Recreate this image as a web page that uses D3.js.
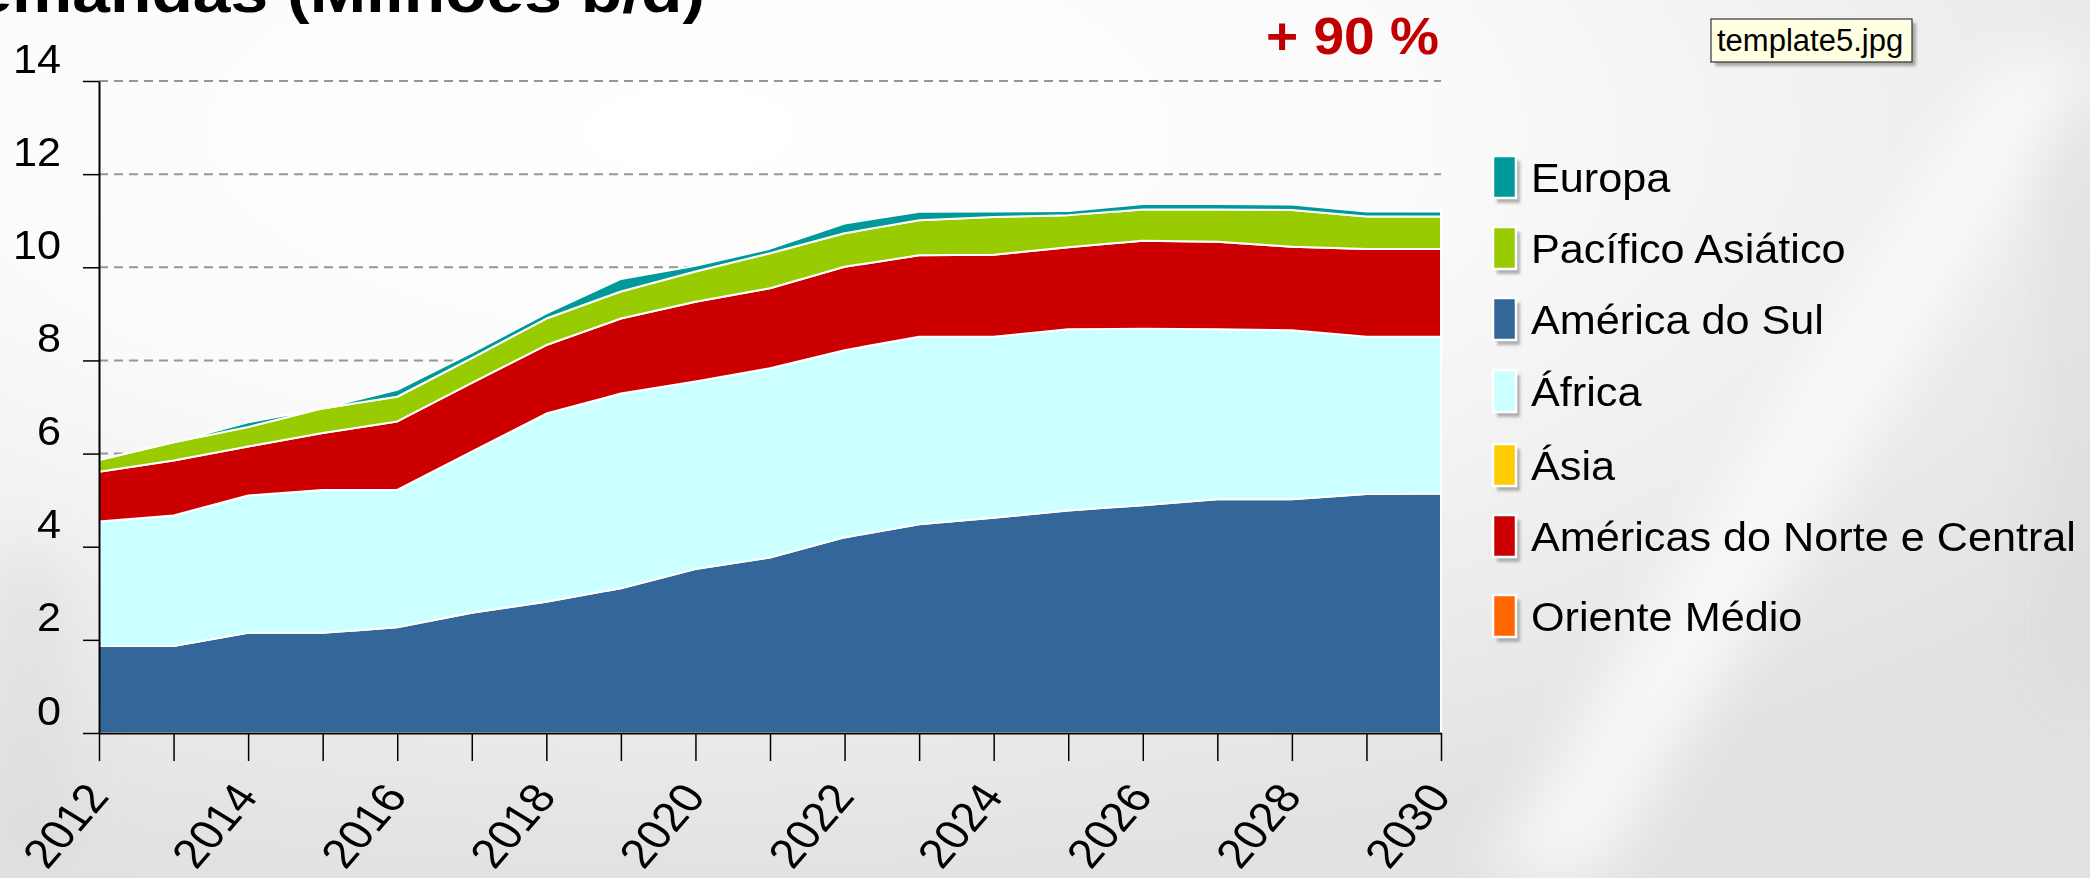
<!DOCTYPE html>
<html>
<head>
<meta charset="utf-8">
<script src="https://cdn.jsdelivr.net/npm/d3@7/dist/d3.min.js"></script>
<style>
  body { margin: 0; overflow: hidden; background: #eee; }
  svg { display: block; }
  text { font-family: "Liberation Sans", Arial, sans-serif; }
</style>
</head>
<body>
<svg id="chart"></svg>
<script>
  //Years on the x axis (one tick each, label every other year)
  const years = [2012, 2013, 2014, 2015, 2016, 2017, 2018, 2019, 2020, 2021, 2022, 2023, 2024, 2025, 2026, 2027, 2028, 2029, 2030];
  const yearLabels = [2012, 2014, 2016, 2018, 2020, 2022, 2024, 2026, 2028, 2030];
  const yTicks = [0, 2, 4, 6, 8, 10, 12, 14];

  //Series values, millions b/d
  const americaDoSul = [1.87, 1.87, 2.15, 2.15, 2.27, 2.58, 2.82, 3.11, 3.52, 3.77, 4.20, 4.48, 4.62, 4.78, 4.89, 5.02, 5.02, 5.13, 5.14];
  const africa = [2.67, 2.80, 2.95, 3.07, 2.95, 3.46, 4.04, 4.18, 4.03, 4.06, 4.02, 4.03, 3.89, 3.89, 3.79, 3.65, 3.63, 3.38, 3.37];
  const asia = [0, 0, 0, 0, 0, 0, 0, 0, 0, 0, 0, 0, 0, 0, 0, 0, 0, 0, 0];
  const americasNorteCentral = [1.07, 1.18, 1.05, 1.22, 1.47, 1.48, 1.47, 1.61, 1.71, 1.72, 1.79, 1.75, 1.76, 1.76, 1.89, 1.88, 1.79, 1.88, 1.88];
  const orienteMedio = [0, 0, 0, 0, 0, 0, 0, 0, 0, 0, 0, 0, 0, 0, 0, 0, 0, 0, 0];
  const pacificoAsiatico = [0.25, 0.39, 0.42, 0.53, 0.53, 0.53, 0.57, 0.58, 0.65, 0.75, 0.72, 0.75, 0.81, 0.69, 0.67, 0.69, 0.79, 0.70, 0.70];
  const europa = [0.00, 0.00, 0.10, 0.00, 0.15, 0.12, 0.11, 0.27, 0.12, 0.10, 0.21, 0.18, 0.12, 0.09, 0.12, 0.12, 0.12, 0.11, 0.11];

  //Stack order, bottom to top
  const stackKeys = ['América do Sul', 'África', 'Ásia', 'Américas do Norte e Central', 'Oriente Médio', 'Pacífico Asiático', 'Europa'];
  const seriesValues = [americaDoSul, africa, asia, americasNorteCentral, orienteMedio, pacificoAsiatico, europa];
  //Legend order, top to bottom
  const legendKeys = ['Europa', 'Pacífico Asiático', 'América do Sul', 'África', 'Ásia', 'Américas do Norte e Central', 'Oriente Médio'];

  const colors = {
    'Europa': '#009999',
    'Pacífico Asiático': '#99cc00',
    'América do Sul': '#336699',
    'África': '#ccffff',
    'Ásia': '#ffcc00',
    'Américas do Norte e Central': '#cc0000',
    'Oriente Médio': '#ff6600'
  };

  const width = 2090;
  const height = 878;
  //the source picture is stretched sideways a little
  const stretch = 1.13;
  //legend row centres (rows are not evenly spaced in the source)
  const legendRowY = [177, 248, 319, 391, 465, 536, 616];

  const svg = d3.select('#chart')
    .attr('width', width)
    .attr('height', height);

  //Background glow
  const defs = svg.append('defs');
  const bg = defs.append('radialGradient')
    .attr('id', 'bg')
    .attr('cx', '0.33').attr('cy', '0.15').attr('r', '0.85');
  bg.append('stop').attr('offset', '0%').attr('stop-color', '#ffffff');
  bg.append('stop').attr('offset', '40%').attr('stop-color', '#fbfbfb');
  bg.append('stop').attr('offset', '100%').attr('stop-color', '#e2e2e2');

  const blur = defs.append('filter').attr('id', 'blur').attr('x', '-50%').attr('y', '-50%').attr('width', '200%').attr('height', '200%');
  blur.append('feGaussianBlur').attr('stdDeviation', 30);
  const shadow = defs.append('filter').attr('id', 'shadow');
  shadow.append('feGaussianBlur').attr('stdDeviation', 1.5);

  svg.append('rect')
    .attr('width', width)
    .attr('height', height)
    .attr('fill', 'url(#bg)');

  //soft diagonal streaks on the right side
  const streaks = svg.append('g').attr('filter', 'url(#blur)');
  streaks.append('path')
    .attr('d', 'M2000,60 L2090,60 L1600,878 L1480,878 Z')
    .attr('fill', '#ffffff').attr('opacity', 0.7);
  streaks.append('path')
    .attr('d', 'M2060,120 L2090,120 L2090,700 L2060,700 Z')
    .attr('fill', '#cfcfcf').attr('opacity', 0.6);
  streaks.append('path')
    .attr('d', 'M0,560 L60,560 L60,878 L0,878 Z')
    .attr('fill', '#d8d8d8').attr('opacity', 0.6);

  //Scales
  const x = d3.scaleLinear().domain([2012, 2030]).range([99, 1441]);
  const y = d3.scaleLinear().domain([0, 14]).range([733, 81]);

  //Dashed gridlines (below the areas)
  svg.append('g')
    .selectAll('line')
    .data(yTicks.filter(d => d > 0))
    .enter().append('line')
    .attr('x1', x(2012)).attr('x2', x(2030))
    .attr('y1', d => y(d)).attr('y2', d => y(d))
    .attr('stroke', '#969696')
    .attr('stroke-width', 2)
    .attr('stroke-dasharray', '9,6');

  //Stacked data
  const rows = years.map((yr, i) => {
    const row = { year: yr };
    stackKeys.forEach((k, j) => { row[k] = seriesValues[j][i]; });
    return row;
  });
  const stacked = d3.stack().keys(stackKeys)(rows);

  const area = d3.area()
    .x(d => x(d.data.year))
    .y0(d => y(d[0]))
    .y1(d => y(d[1]));

  svg.append('g')
    .selectAll('path')
    .data(stacked.filter(s => d3.sum(s, d => d[1] - d[0]) > 0))
    .enter().append('path')
    .attr('d', area)
    .attr('fill', d => colors[d.key])
    .attr('stroke', '#ffffff')
    .attr('stroke-width', 2)
    .attr('stroke-linejoin', 'round');

  //Y axis
  const yAxis = svg.append('g')
    .attr('transform', `translate(${x(2012)},0)`)
    .call(d3.axisLeft(y).tickValues(yTicks).tickSize(16).tickSizeOuter(0));
  yAxis.select('.domain').attr('stroke', '#000').attr('stroke-width', 2);
  yAxis.selectAll('.tick line').attr('stroke', '#000').attr('stroke-width', 1.5);
  yAxis.selectAll('.tick text')
    .attr('x', 0).attr('dy', 0)
    .attr('transform', `translate(-38,-9) scale(1.08,1)`)
    .attr('font-size', 40)
    .attr('fill', '#000')
    .attr('font-family', '"Liberation Sans", Arial, sans-serif');

  //X axis
  const xAxis = svg.append('g')
    .attr('transform', `translate(0,${y(0)})`)
    .call(d3.axisBottom(x).tickValues(years).tickSize(28).tickSizeOuter(0)
      .tickFormat(d => yearLabels.includes(d) ? d : ''));
  xAxis.select('.domain').attr('stroke', '#000').attr('stroke-width', 2);
  xAxis.selectAll('.tick line').attr('stroke', '#000').attr('stroke-width', 1.5);
  xAxis.selectAll('.tick text')
    .attr('x', 0).attr('y', 0).attr('dy', 0)
    .attr('text-anchor', 'end')
    .attr('transform', `translate(11,64) scale(1.18,1) rotate(-54)`)
    .attr('font-size', 41)
    .attr('fill', '#000')
    .attr('font-family', '"Liberation Sans", Arial, sans-serif');

  //Title, cut off at the top of the picture as in the source
  svg.append('text')
    .attr('transform', `translate(705,12) scale(${stretch},1)`)
    .attr('text-anchor', 'end')
    .attr('font-size', 60)
    .attr('font-weight', 'bold')
    .attr('fill', '#000')
    .text('Demandas (Milhões b/d)');

  //Growth note
  svg.append('text')
    .attr('transform', `translate(1266,54) scale(1.08,1)`)
    .attr('font-size', 51)
    .attr('font-weight', 'bold')
    .attr('fill', '#c00000')
    .text('+ 90 %');

  //Legend
  const legend = svg.append('g')
    .selectAll('g')
    .data(legendKeys)
    .enter().append('g')
    .attr('transform', (d, i) => `translate(1493,${legendRowY[i]})`);

  legend.append('rect')
    .attr('x', 4).attr('y', -16)
    .attr('width', 23).attr('height', 42)
    .attr('fill', '#9c9c9c')
    .attr('opacity', 0.8)
    .attr('filter', 'url(#shadow)');
  legend.append('rect')
    .attr('x', 0).attr('y', -21)
    .attr('width', 23).attr('height', 42)
    .attr('fill', d => colors[d])
    .attr('stroke', '#ffffff')
    .attr('stroke-width', 2.5);
  legend.append('text')
    .attr('transform', `translate(38,15) scale(1.08,1)`)
    .attr('font-size', 40)
    .attr('fill', '#000')
    .text(d => d);

  //File name tooltip
  const tip = svg.append('g').attr('transform', 'translate(1711,19)');
  tip.append('rect')
    .attr('x', 4).attr('y', 4)
    .attr('width', 201).attr('height', 43)
    .attr('fill', '#777')
    .attr('opacity', 0.6)
    .attr('filter', 'url(#shadow)');
  tip.append('rect')
    .attr('width', 201).attr('height', 43)
    .attr('fill', '#ffffe1')
    .attr('stroke', '#333')
    .attr('stroke-width', 1.2);
  tip.append('text')
    .attr('x', 6).attr('y', 32)
    .attr('font-size', 31)
    .attr('font-family', '"Noto Sans", sans-serif')
    .attr('fill', '#000')
    .text('template5.jpg');
</script>
</body>
</html>
